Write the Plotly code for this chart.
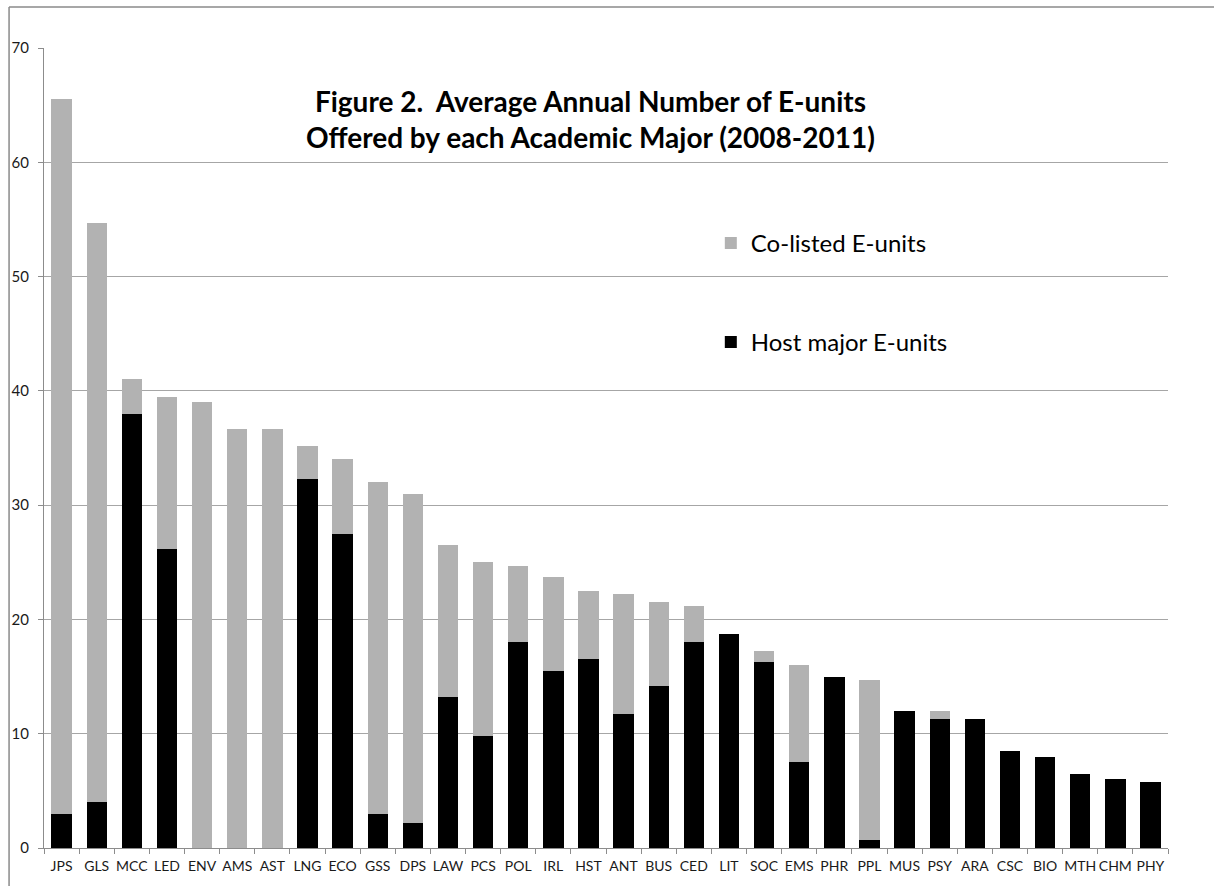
import plotly.graph_objects as go

majors = ["JPS", "GLS", "MCC", "LED", "ENV", "AMS", "AST", "LNG", "ECO", "GSS", "DPS",
          "LAW", "PCS", "POL", "IRL", "HST", "ANT", "BUS", "CED", "LIT", "SOC", "EMS",
          "PHR", "PPL", "MUS", "PSY", "ARA", "CSC", "BIO", "MTH", "CHM", "PHY"]
host_units = [3.0, 4.0, 38.0, 26.2, 0, 0, 0, 32.3, 27.5, 3.0, 2.2,
              13.2, 9.8, 18.0, 15.5, 16.5, 11.7, 14.2, 18.0, 18.7, 16.3, 7.5,
              15.0, 0.7, 12.0, 11.3, 11.3, 8.5, 8.0, 6.5, 6.0, 5.8]
total_units = [65.5, 54.7, 41.0, 39.5, 39.0, 36.7, 36.7, 35.2, 34.0, 32.0, 31.0,
               26.5, 25.0, 24.7, 23.7, 22.5, 22.2, 21.5, 21.2, 18.7, 17.2, 16.0,
               15.0, 14.7, 12.0, 12.0, 11.3, 8.5, 8.0, 6.5, 6.0, 5.8]
colisted_units = [round(t - h, 2) for t, h in zip(total_units, host_units)]

y_ticks = [0, 10, 20, 30, 40, 50, 60, 70]

FONT = "Lato"
W, H = 1214, 886
L, R, T, B = 42, 46, 48, 37
pw, ph = W - L - R, H - T - B

def px_x(p):
    return (p - L) / pw

def px_y(p):
    return (H - B - p) / ph

fig = go.Figure()
fig.add_trace(go.Bar(x=majors, y=host_units, name="Host major E-units",
                     marker=dict(color="#000000", line=dict(width=0)),
                     legendgroup="b", legendrank=2))
fig.add_trace(go.Bar(x=majors, y=colisted_units, name="Co-listed E-units",
                     marker=dict(color="#b2b2b2", line=dict(width=0)),
                     legendgroup="a", legendrank=1))

frame_color = "#8a8a8a"
fig.update_layout(
    width=W, height=H,
    margin=dict(l=L, r=R, t=T, b=B, pad=0),
    barmode="stack", bargap=0.42,
    plot_bgcolor="white", paper_bgcolor="white",
    font=dict(family=FONT, size=14, color="#1a1a1a"),
    showlegend=True,
    legend=dict(x=px_x(710), y=px_y(221), xanchor="left", yanchor="top",
                traceorder="grouped", tracegroupgap=65,
                font=dict(family=FONT, size=24, color="#000000"),
                bgcolor="rgba(0,0,0,0)", itemwidth=30),
    annotations=[dict(
        text="<b>Figure 2.  Average Annual Number of E-units<br>Offered by each Academic Major (2008-2011)</b>",
        xref="paper", yref="paper", x=px_x(589), y=px_y(119),
        xanchor="center", yanchor="middle", showarrow=False,
        font=dict(family=FONT, size=28, color="#000000"), align="center")],
    shapes=[
        dict(type="line", xref="paper", yref="paper",
             x0=px_x(7), x1=px_x(7), y0=px_y(H + 5), y1=px_y(7),
             line=dict(color=frame_color, width=1.5), layer="below"),
        dict(type="line", xref="paper", yref="paper",
             x0=px_x(7), x1=px_x(W + 5), y0=px_y(7), y1=px_y(7),
             line=dict(color=frame_color, width=1.5), layer="below"),
    ],
)
fig.update_xaxes(type="category", showgrid=False, showline=True, linecolor="#8c8c8c",
                 linewidth=1, ticks="outside", tickson="boundaries", ticklen=5,
                 tickcolor="#8c8c8c", tickfont=dict(family=FONT, size=14),
                 tickangle=0, ticklabelstandoff=5)
fig.update_yaxes(range=[0, 70], tickvals=y_ticks, showgrid=True, gridcolor="#a6a6a6",
                 gridwidth=1, showline=True, linecolor="#8c8c8c", linewidth=1,
                 ticks="outside", ticklen=5, tickcolor="#8c8c8c",
                 tickfont=dict(family=FONT, size=15), zeroline=False,
                 ticklabelstandoff=6)

fig.write_html("out.html")
